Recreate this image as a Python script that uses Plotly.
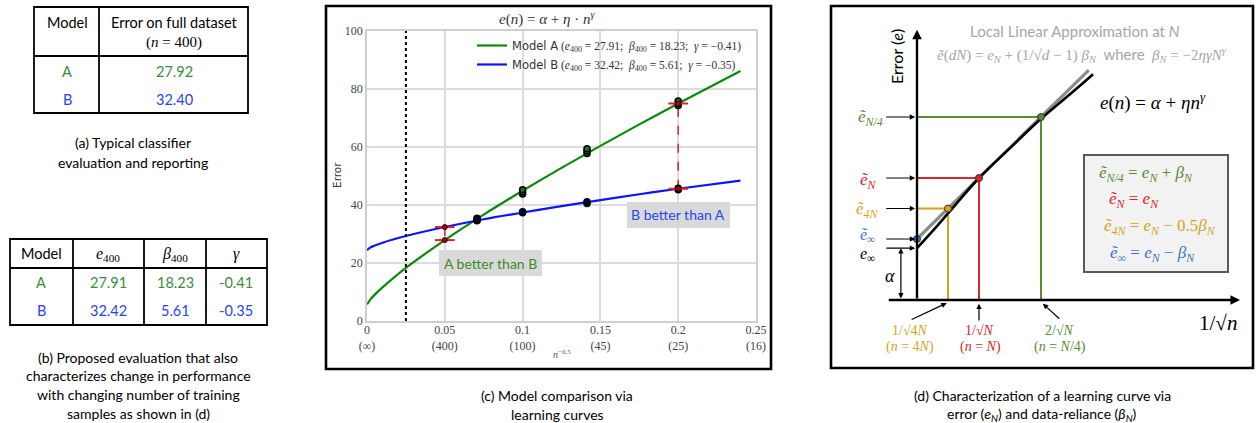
import plotly.graph_objects as go

W, H = 1256, 423
SANS = "Lato"
SERIF = "Liberation Serif"
MPL = "DejaVu Sans"

# ---------------- data ----------------
# (a) typical evaluation table
table_a_models = ["A", "B"]
table_a_errors = ["27.92", "32.40"]

# (b) proposed evaluation table
table_b_models = ["A", "B"]
table_b_e400 = ["27.91", "32.42"]
table_b_beta400 = ["18.23", "5.61"]
table_b_gamma = ["-0.41", "-0.35"]

# (c) learning curves, x = n^-0.5
curve_x = [0, 0.002, 0.005, 0.01, 0.025, 0.05, 0.075, 0.1, 0.125, 0.15, 0.175, 0.2, 0.24]
model_a_curve = [5.7, 7.3, 9.1, 11.6, 18.3, 27.9, 36.7, 44.9, 52.8, 60.4, 67.8, 75.0, 86.2]
model_b_curve = [24.4, 25.3, 26.0, 27.0, 29.3, 32.4, 35.1, 37.4, 39.6, 41.7, 43.7, 45.6, 48.4]

obs_x_a = [0.0707, 0.0707, 0.1, 0.1, 0.1, 0.1414, 0.1414, 0.1414, 0.2, 0.2, 0.2]
obs_a = [34.6, 35.4, 43.8, 44.5, 45.3, 57.8, 58.6, 59.4, 74.3, 75.1, 75.9]
obs_x_b = [0.0707, 0.0707, 0.1, 0.1, 0.1414, 0.1414, 0.2, 0.2]
obs_b = [34.7, 35.2, 37.3, 37.7, 40.5, 41.1, 45.3, 45.8]

compare_x = [0.05, 0.2]
compare_a = [27.9, 75.0]
compare_b = [32.4, 45.6]
vline_x = 0.025

x_tick_vals = [0, 0.05, 0.1, 0.15, 0.2, 0.25]
x_tick_labels = ["0<br>(∞)", "0.05<br>(400)", "0.1<br>(100)", "0.15<br>(45)", "0.2<br>(25)", "0.25<br>(16)"]
y_tick_vals = [0, 20, 40, 60, 80, 100]

# (d) schematic: x in units of 1/sqrt(N), e in units of beta_N
d_curve_x = [0, 0.25, 0.5, 1.0, 1.5, 2.0, 2.5, 2.84]
d_curve_e = [0.85, 1.13, 1.42, 2.0, 2.49, 2.97, 3.40, 3.70]
d_approx_x = [0, 2.77]
d_approx_e = [1.0, 3.77]
d_mark_x = [0.5, 1.0, 2.0]
d_mark_e = [1.5, 2.0, 3.0]
d_tilde_inf = 1.0
d_alpha = 0.85

GREEN_T = "#3a8c3a"
BLUE_T = "#2645f2"
D_GOLD = "#d8a21c"
D_RED = "#d9252b"
D_GREEN = "#5b8a35"
D_BLUE = "#4472c4"
d_mark_colors = [D_GOLD, D_RED, D_GREEN]

fig = go.Figure()

# ---------------- (c) chart ----------------
fig.add_trace(go.Scatter(x=curve_x, y=model_a_curve, mode="lines", line=dict(color="#0a8a0a", width=2.2, shape="spline"),
                         name="<span style='font-family:DejaVu Sans'>Model A</span> (<i>e</i><sub>400</sub> = 27.91;  <i>β</i><sub>400</sub> = 18.23;  <i>γ</i> = −0.41)"))
fig.add_trace(go.Scatter(x=curve_x, y=model_b_curve, mode="lines", line=dict(color="#0a14ff", width=2.2, shape="spline"),
                         name="<span style='font-family:DejaVu Sans'>Model B</span> (<i>e</i><sub>400</sub> = 32.42;  <i>β</i><sub>400</sub> = 5.61;  <i>γ</i> = −0.35)"))
fig.add_trace(go.Scatter(x=[vline_x, vline_x], y=[0, 100], mode="lines", line=dict(color="black", width=2, dash="dot"), showlegend=False))
for i in range(len(compare_x)):
    fig.add_trace(go.Scatter(x=[compare_x[i], compare_x[i]], y=[compare_b[i], compare_a[i]], mode="lines",
                             line=dict(color="#d62728", width=1.5, dash="dash"), showlegend=False))
fig.add_trace(go.Scatter(x=obs_x_a, y=obs_a, mode="markers", showlegend=False,
                         marker=dict(size=6, color="#127a12", line=dict(color="black", width=1.5))))
fig.add_trace(go.Scatter(x=obs_x_b, y=obs_b, mode="markers", showlegend=False,
                         marker=dict(size=6, color="#000040", line=dict(color="black", width=1.5))))
fig.add_trace(go.Scatter(x=compare_x + compare_x, y=compare_a + compare_b, mode="markers", showlegend=False,
                         marker=dict(symbol="line-ew", size=14, line=dict(color="#e02020", width=2))))
fig.add_trace(go.Scatter(x=compare_x + compare_x, y=compare_a + compare_b, mode="markers", showlegend=False,
                         marker=dict(size=5, color="#8b1010", line=dict(color="#400000", width=1))))

# ---------------- (d) schematic ----------------
for k in range(len(d_mark_x)):
    fig.add_trace(go.Scatter(x=[0, d_mark_x[k], d_mark_x[k]], y=[d_mark_e[k], d_mark_e[k], 0], mode="lines",
                             line=dict(color=d_mark_colors[k], width=2), showlegend=False, xaxis="x2", yaxis="y2"))
fig.add_trace(go.Scatter(x=d_approx_x, y=d_approx_e, mode="lines", line=dict(color="#8c8c8c", width=3.2),
                         showlegend=False, xaxis="x2", yaxis="y2"))
fig.add_trace(go.Scatter(x=d_curve_x, y=d_curve_e, mode="lines", line=dict(color="black", width=2.6, shape="spline"),
                         showlegend=False, xaxis="x2", yaxis="y2"))
fig.add_trace(go.Scatter(x=d_mark_x + [0], y=d_mark_e + [d_tilde_inf], mode="markers", showlegend=False,
                         marker=dict(size=7, color=d_mark_colors + [D_BLUE], line=dict(color="#333333", width=1)),
                         xaxis="x2", yaxis="y2"))

anns = []
shapes = []


def px(x):
    return x / W


def py(y):
    return 1 - y / H


def T(x, y, text, size=14, color="black", family=SANS, xanchor="center", yanchor="middle", angle=0):
    anns.append(dict(x=px(x), y=py(y), xref="paper", yref="paper", text=text, showarrow=False,
                     font=dict(size=size, color=color, family=family), xanchor=xanchor, yanchor=yanchor,
                     textangle=angle))


def L(x0, y0, x1, y1, color="black", width=1.8):
    shapes.append(dict(type="line", xref="paper", yref="paper", x0=px(x0), y0=py(y0), x1=px(x1), y1=py(y1),
                       line=dict(color=color, width=width)))


def R(x0, y0, x1, y1, fill="rgba(0,0,0,0)", color="black", width=1.8, layer="above"):
    shapes.append(dict(type="rect", xref="paper", yref="paper", x0=px(x0), y0=py(y0), x1=px(x1), y1=py(y1),
                       fillcolor=fill, line=dict(color=color, width=width), layer=layer))


def A(x, y, ax, ay, width=1.3, head=2, size=1.0, side="end"):
    anns.append(dict(x=x, y=y, ax=ax, ay=ay, xref="x2", yref="y2", axref="x2", ayref="y2", text="",
                     showarrow=True, arrowhead=head, arrowsize=size, arrowwidth=width, arrowcolor="black",
                     arrowside=side, startarrowhead=head, startarrowsize=size))


# ---- (a) table ----
R(34, 7, 248, 113)
L(99, 7, 99, 113)
L(34, 56, 248, 56)
T(67, 23, "Model", 14.5)
T(174, 23, "Error on full dataset", 14.5)
T(174, 42, "(<i>n</i> = 400)", 15, family=SERIF)
row_y_a = [71, 99]
for i, m in enumerate(table_a_models):
    c = GREEN_T if m == "A" else BLUE_T
    T(67, row_y_a[i], m, 14.5, c)
    T(174, row_y_a[i], table_a_errors[i], 14.5, c)
T(133, 143, "(a) Typical classifier", 14)
T(133, 162, "evaluation and reporting", 14)

# ---- (b) table ----
R(10, 239, 267, 325)
for xx in [73, 144, 206]:
    L(xx, 239, xx, 325)
L(10, 268, 267, 268)
T(41, 253, "Model", 14.5)
T(108, 254, "<i>e</i><sub>400</sub>", 16, family=SERIF)
T(175, 254, "<i>β</i><sub>400</sub>", 16, family=SERIF)
T(236, 254, "<i>γ</i>", 16, family=SERIF)
row_y_b = [282, 310]
for i, m in enumerate(table_b_models):
    c = GREEN_T if m == "A" else BLUE_T
    T(41, row_y_b[i], m, 14.5, c)
    T(108, row_y_b[i], table_b_e400[i], 14.5, c)
    T(175, row_y_b[i], table_b_beta400[i], 14.5, c)
    T(236, row_y_b[i], table_b_gamma[i], 14.5, c)
for j, t in enumerate(["(b) Proposed evaluation that also", "characterizes change in performance",
                       "with changing number of training", "samples as shown in (d)"]):
    T(138, 357 + j * 18.7, t, 14)

# ---- (c) decorations ----
R(326, 6, 771, 369, width=2.6)
T(547, 19, "<i>e</i>(<i>n</i>) = <i>α</i> + <i>η</i> · <i>n</i><sup><i>γ</i></sup>", 15, "#333333", SERIF)
T(337, 175, "Error", 10.5, "#333333", MPL, angle=-90)
T(562, 354, "<i>n</i><sup>−0.5</sup>", 10, "#555555", SERIF)
R(627, 202, 730, 228, fill="#d9d9d9", width=0, color="#d9d9d9")
T(678, 215, "B better than A", 14, BLUE_T)
R(439, 250, 542, 276, fill="#d9d9d9", width=0, color="#d9d9d9")
T(490, 263, "A better than B", 14, "#3a8a2a")
T(557, 395, "(c) Model comparison via", 14)
T(557, 414, "learning curves", 14)

# ---- (d) decorations ----
R(831, 6, 1253, 368, width=2.6)
# main axes
A(0, 4.43, 0, 0, width=2.4, head=2, size=0.8)
A(5.21, 0, -0.48, 0, width=2.4, head=2, size=0.8)
# level arrows
for lev in d_mark_e + [d_tilde_inf, d_alpha]:
    A(-0.03, lev, -0.52, lev, width=1.2, head=2, size=0.9)
A(-0.26, d_alpha, -0.26, 0, width=1.2, head=2, size=0.9, side="end+start")
# bottom arrows
A(0.48, -0.05, -0.11, -0.33, width=1.2, head=2, size=0.9)
A(1.0, -0.06, 1.0, -0.36, width=1.2, head=2, size=0.9)
A(2.03, -0.06, 2.32, -0.33, width=1.2, head=2, size=0.9)

T(897, 57, "Error (<i>e</i>)", 16, "black", SANS, angle=-90)
T(1075, 31, "Local Linear Approximation at <i>N</i>", 15, "#a6a6a6")
T(1082, 55, "<i>ẽ</i>(<i>dN</i>) = <i>e<sub>N</sub></i> + (1/√<i>d</i> − 1) <i>β<sub>N</sub></i>"
            "  <span style='font-family:Lato'>where</span>  <i>β<sub>N</sub></i> = −2<i>ηγN<sup>γ</sup></i>",
  15, "#a6a6a6", SERIF)
T(1153, 101, "<i>e</i>(<i>n</i>) = <i>α</i> + <i>ηn<sup>γ</sup></i>", 19, "black", SERIF)

T(870, 118, "<i>ẽ<sub>N/4</sub></i>", 17, D_GREEN, SERIF)
T(868, 181, "<i>ẽ<sub>N</sub></i>", 17, D_RED, SERIF)
T(867, 210, "<i>ẽ<sub>4N</sub></i>", 17, D_GOLD, SERIF)
T(867, 235, "<i>ẽ<sub>∞</sub></i>", 16, D_BLUE, SERIF)
T(867, 254, "<i>e<sub>∞</sub></i>", 16, "black", SERIF)
T(890, 276, "<i>α</i>", 18, "black", SERIF)

T(910, 330, "1/√4<i>N</i>", 14, D_GOLD, SERIF)
T(910, 347, "(<i>n</i> = 4<i>N</i>)", 14, D_GOLD, SERIF)
T(979, 330, "1/√<i>N</i>", 14, D_RED, SERIF)
T(980, 347, "(<i>n</i> = <i>N</i>)", 14, D_RED, SERIF)
T(1059, 330, "2/√<i>N</i>", 14, D_GREEN, SERIF)
T(1060, 347, "(<i>n</i> = <i>N</i>/4)", 14, D_GREEN, SERIF)
T(1218, 323, "1/√<i>n</i>", 21, "black", SERIF)

R(1084, 155, 1228, 272, fill="#f2f2f2", color="#595959", width=2, layer="below")
T(1146, 174, "<i>ẽ<sub>N/4</sub></i> = <i>e<sub>N</sub></i> + <i>β<sub>N</sub></i>", 17, D_GREEN, SERIF)
T(1134, 200, "<i>ẽ<sub>N</sub></i> = <i>e<sub>N</sub></i>", 17, D_RED, SERIF)
T(1160, 227, "<i>ẽ<sub>4N</sub></i> = <i>e<sub>N</sub></i> − 0.5<i>β<sub>N</sub></i>", 17, D_GOLD, SERIF)
T(1152, 254, "<i>ẽ<sub>∞</sub></i> = <i>e<sub>N</sub></i> − <i>β<sub>N</sub></i>", 17, D_BLUE, SERIF)

T(1042, 395, "(d) Characterization of a learning curve via", 14)
T(1042, 414, "error (<i>e<sub>N</sub></i>) and data-reliance (<i>β<sub>N</sub></i>)", 14)

axis_common = dict(showgrid=True, gridcolor="#dcdcdc", gridwidth=1.5, zeroline=False, showline=True,
                   linecolor="#cfcfcf", linewidth=1.5, mirror=True, ticks="", automargin=False,
                   tickfont=dict(family=SERIF, size=12, color="#444444"))

fig.update_layout(
    width=W, height=H, margin=dict(l=0, r=0, t=0, b=0, autoexpand=False),
    paper_bgcolor="white", plot_bgcolor="white",
    xaxis=dict(domain=[px(367), px(756)], range=[0, 0.25], tickvals=x_tick_vals, ticktext=x_tick_labels,
               anchor="y", ticklabelstandoff=-3, **axis_common),
    yaxis=dict(domain=[py(321), py(31)], range=[0, 100], tickvals=y_tick_vals, anchor="x", **axis_common),
    xaxis2=dict(domain=[px(831), px(1253)], range=[(831 - 917) / 62, (1253 - 917) / 62], visible=False,
                anchor="y2", automargin=False),
    yaxis2=dict(domain=[py(368), py(6)], range=[(300 - 368) / 61, (300 - 6) / 61], visible=False, anchor="x2",
                automargin=False),
    legend=dict(x=px(472), y=py(31), xanchor="left", yanchor="top", bgcolor="rgba(255,255,255,0)",
                font=dict(family=SERIF, size=11.5, color="#333333"), tracegroupgap=0),
    annotations=anns, shapes=shapes, showlegend=True,
)

fig.write_html("out.html", config={"displayModeBar": False},
               post_script="document.body.style.margin='0px'; document.body.style.overflow='hidden';")
